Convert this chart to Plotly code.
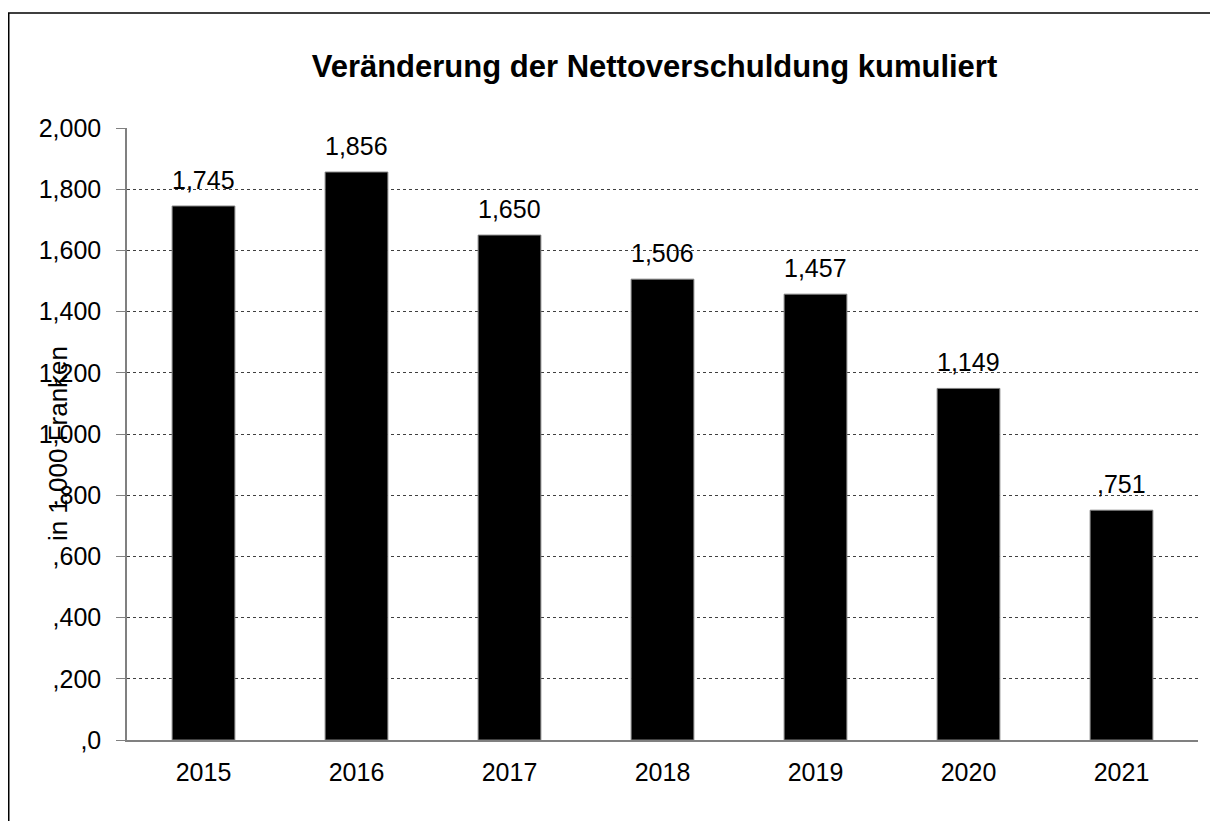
import plotly.graph_objects as go

# Veränderung der Nettoverschuldung, in 1'000 Franken
years = ["2015", "2016", "2017", "2018", "2019", "2020", "2021"]
values = [1745, 1856, 1650, 1506, 1457, 1149, 751]
value_labels = ["1,745", "1,856", "1,650", "1,506", "1,457", "1,149", ",751"]

tick_vals = [0, 200, 400, 600, 800, 1000, 1200, 1400, 1600, 1800, 2000]
tick_text = [",0", ",200", ",400", ",600", ",800", "1,000", "1,200",
             "1,400", "1,600", "1,800", "2,000"]

font_name = "Liberation Sans, Arial, sans-serif"

fig = go.Figure()
fig.add_trace(go.Bar(
    x=years,
    y=values,
    marker_color="black",
    marker_line=dict(color="#808080", width=1),
    width=0.41,
))

# value labels sit a bit higher above the bars than plotly's "outside" text
# (category axis: annotation x is the category index)
for i, (v, lbl) in enumerate(zip(values, value_labels)):
    fig.add_annotation(
        x=i, y=v, text=lbl, showarrow=False,
        yanchor="bottom", yshift=10,
        font=dict(size=25, color="black"),
    )

fig.update_layout(
    width=1218,
    height=821,
    margin=dict(l=119, r=28, t=120, b=89),
    paper_bgcolor="white",
    plot_bgcolor="white",
    font=dict(family=font_name, size=25, color="black"),
    showlegend=False,
    title=dict(
        text="<b>Veränderung der Nettoverschuldung kumuliert</b>",
        x=0.4925, xref="paper", xanchor="center",
        y=1 - 58 / 821, yref="container", yanchor="middle",
        font=dict(size=31, color="black"),
    ),
)

fig.update_xaxes(
    type="category",
    showline=True, linecolor="#808080", linewidth=1.5,
    ticks="", showgrid=False,
    tickfont=dict(size=25), ticklabelstandoff=9,
)
fig.update_yaxes(
    range=[0, 2000],
    tickvals=tick_vals, ticktext=tick_text,
    showline=True, linecolor="#808080", linewidth=1.5,
    ticks="outside", ticklen=9, tickcolor="#808080",
    showgrid=True, gridcolor="#404040", griddash="dot", gridwidth=1,
    tickfont=dict(size=25), ticklabelstandoff=10,
    zeroline=False,
)

fig.add_annotation(
    text="in 1,000 Franken",
    textangle=-90,
    x=-0.0645, xref="paper", xanchor="center",
    y=0.485, yref="paper", yanchor="middle",
    showarrow=False,
    font=dict(size=26, color="black"),
)

# outer chart border (only top and left edges inside the picture)
fig.add_shape(
    type="rect", xref="paper", yref="paper",
    x0=(0.75 - 119) / 1071, x1=1.1,
    y0=-0.3, y1=1 + (120 - 5) / 612,
    line=dict(color="black", width=1.5),
    layer="below",
)

fig.write_html("out.html")
